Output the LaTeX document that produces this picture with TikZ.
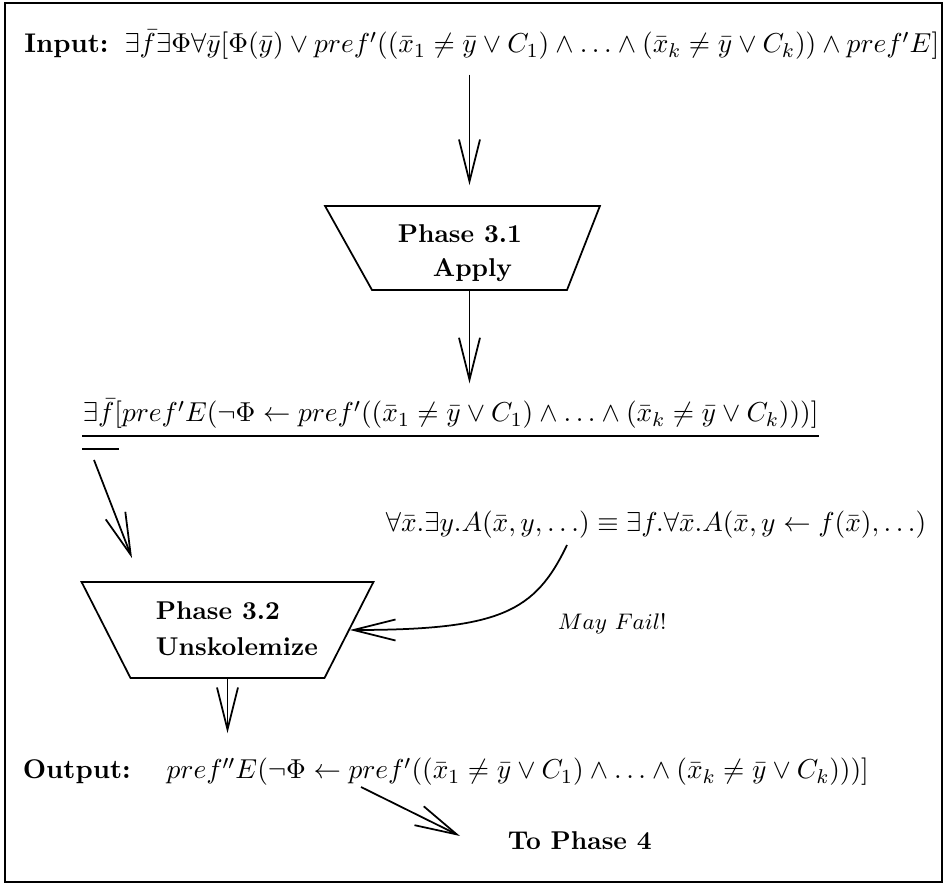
\documentclass[tikz,border=0pt]{standalone}
\usepackage{amsmath}
\usepackage{amssymb}
\usetikzlibrary{positioning,shapes.geometric,arrows.meta}

\newcommand{\figfont}{\fontsize{10.8}{13}\selectfont}
\newcommand{\phasefont}{\fontsize{10.3}{12.4}\selectfont\bfseries}

\tikzset{
  flow/.style={-{Straight Barb[length=16.8pt,width=8.4pt]}, line width=0.7pt},
  phase/.style={draw, line width=0.7pt, trapezium, shape border rotate=180,
    minimum width=1pt, minimum height=1pt},
  phasetext/.style={align=left, font=\phasefont, inner sep=0pt},
  formula/.style={inner sep=0pt, font=\figfont}
}

\begin{document}
\begin{tikzpicture}[x=0.4pt, y=-0.4pt, line width=0.7pt]
  \useasboundingbox (0,0) rectangle (947,884);
  \draw (5,3) rectangle (942,882);

  \node[formula, anchor=base east] (in) at (940,53)
    {\textbf{Input:}\hspace{6.4pt}$\exists\bar f\exists\Phi\forall\bar y[\Phi(\bar y)\vee pref'((\bar x_1\neq\bar y\vee C_1)\wedge\ldots\wedge(\bar x_k\neq\bar y\vee C_k))\wedge pref'E]$};
  \node[phase, trapezium left angle=68.6, trapezium right angle=60.8,
    inner xsep=39pt, inner ysep=16.8pt] (p31) at (469.5,248) {};
  \node[phasetext, anchor=west] (t31) at (397,253) {Phase 3.1\\[1pt]\hspace{14pt}Apply};
  \node[formula, anchor=base west] (f2) at (82,422)
    {$\exists\bar f[pref'E(\neg\Phi\leftarrow pref'((\bar x_1\neq\bar y\vee C_1)\wedge\ldots\wedge(\bar x_k\neq\bar y\vee C_k)))]$};
  \node[formula, anchor=base west] (eq) at (385,532)
    {$\forall\bar x.\exists y.A(\bar x,y,\ldots)\equiv\exists f.\forall\bar x.A(\bar x,y\leftarrow f(\bar x),\ldots)$};
  \node[phase, trapezium angle=63, inner xsep=38.8pt, inner ysep=19.2pt] (p32) at (227.5,630) {};
  \node[phasetext, anchor=west] (t32) at (155,629) {Phase 3.2\\[2pt]Unskolemize};
  \node[formula, anchor=base west, font=\fontsize{9}{11}\selectfont] (mf) at (557,630) {$May\ Fail!$};
  \node[formula, anchor=base west] (out) at (22,779)
    {\textbf{Output:}\hspace{14.4pt}$pref''E(\neg\Phi\leftarrow pref'((\bar x_1\neq\bar y\vee C_1)\wedge\ldots\wedge(\bar x_k\neq\bar y\vee C_k)))]$};
  \node[phasetext, anchor=west] (tp4) at (507,841) {To Phase 4};

  \draw ([shift={(0,14)}]f2.base west) -- ([shift={(0,14)}]f2.base east);
  \draw ([shift={(0,27)}]f2.base west) -- ++(37,0);

  \draw[flow] ([shift={(0,14)}]p31.north |- in.south) -- ([shift={(0,-20)}]p31.center |- p31.north);
  \draw[flow] (p31.south) -- ([shift={(0,-15)}]p31.south |- f2.north);
  \draw[flow] ([shift={(12,38)}]f2.base west) -- ([shift={(-95.5,-23)}]p32.north);
  \draw[flow] ([shift={(182,13)}]eq.base west) .. controls (535,612) and (500,630) .. (p32.east);
  \draw[flow] (p32.south) -- ([shift={(0,-24)}]p32.south |- out.north);
  \draw[flow] ([shift={(339,8)}]out.base west) -- ([shift={(-47,-5)}]tp4.west);
\end{tikzpicture}
\end{document}
